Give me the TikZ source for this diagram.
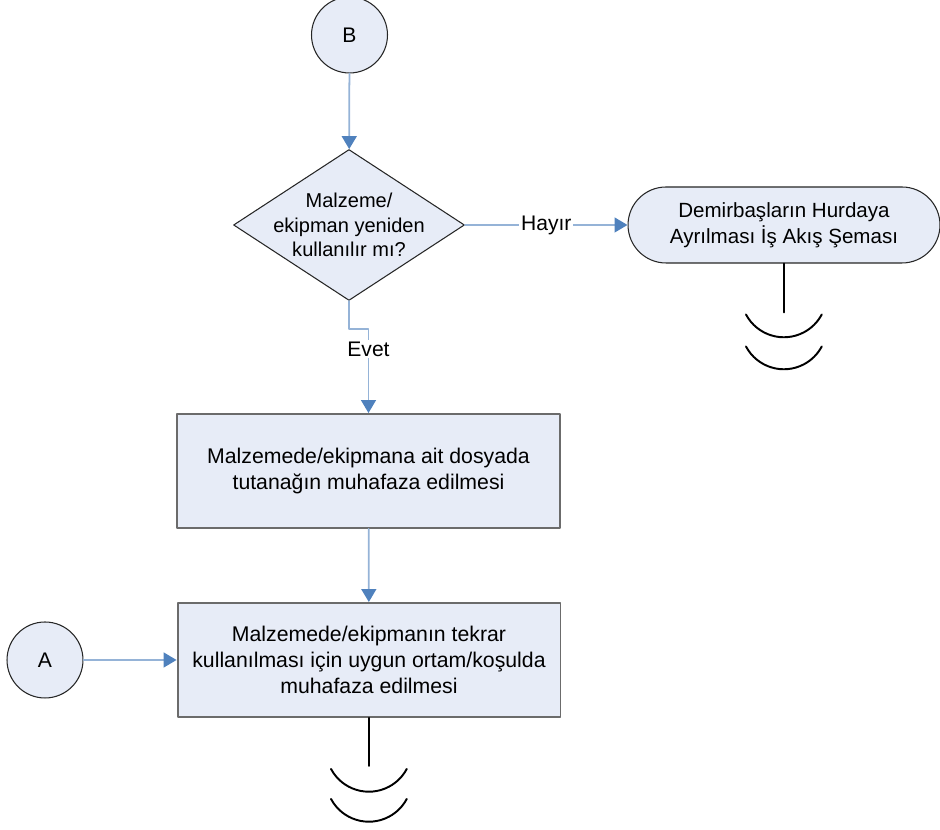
\documentclass[tikz,border=0pt]{standalone}
\usepackage{fontspec}
\setmainfont{Liberation Sans}
\usepackage{tikz}
\usetikzlibrary{shapes.geometric}
\usetikzlibrary{arrows.meta}
\definecolor{dolgu}{rgb}{0.906,0.925,0.969}
\definecolor{cizgi}{rgb}{0.584,0.702,0.843}
\definecolor{okucu}{rgb}{0.310,0.506,0.741}
\definecolor{kenar}{rgb}{0.42,0.42,0.42}
\definecolor{koyu}{rgb}{0.15,0.15,0.15}
\tikzstyle{every node}=[font=\fontsize{11.7}{14.7}\selectfont]
\tikzstyle{baglanti}=[circle,draw=koyu,fill=dolgu,line width=0.6pt,minimum size=1.52cm,inner sep=0pt,font=\fontsize{12}{14.7}\selectfont]
\tikzstyle{islem}=[rectangle,draw=kenar,fill=dolgu,line width=1.1pt,minimum width=7.66cm,minimum height=2.28cm,align=center,font=\fontsize{12.1}{15}\selectfont]
\tikzstyle{karar}=[diamond,draw=koyu,fill=dolgu,line width=0.6pt,minimum width=4.62cm,minimum height=3.02cm,inner sep=0pt]
\tikzstyle{sonlandirma}=[rectangle,rounded corners=0.76cm,draw=koyu,fill=dolgu,line width=0.6pt,minimum width=6.24cm,minimum height=1.52cm,align=center]
\tikzstyle{akis}=[line width=1pt,color=cizgi,-{Triangle[length=7.4pt,width=8.5pt,color=okucu]}]
\tikzstyle{etiket}=[fill=white,text=black,inner sep=1pt,font=\fontsize{12}{14.7}\selectfont]
\tikzstyle{devam}=[line width=1.1pt,color=black]

\begin{document}
\begin{tikzpicture}[line cap=round,line join=round,x=0.02cm,y=0.02cm]
\useasboundingbox (0,0) rectangle (940,830);
\node[baglanti] (B) at (349.5,795) {B};
\node[karar] (soru) at (349,605) {};
\node[align=center,font=\fontsize{11.4}{13.9}\selectfont] (sorumetin) at (soru) {Malzeme/\\ekipman yeniden\\kullanılır mı?};
\node[sonlandirma] (hurda) at (784,605) {Demirbaşların Hurdaya\\Ayrılması İş Akış Şeması};
\node[islem] (tutanak) at (368.5,359) {Malzemede/ekipmana ait dosyada\\tutanağın muhafaza edilmesi};
\node[islem] (muhafaza) at (369,170) {Malzemede/ekipmanın tekrar\\kullanılması için uygun ortam/koşulda\\muhafaza edilmesi};
\node[baglanti] (A) at (45,170) {A};
\draw [akis] (B) -- (soru);
\draw [akis] (soru) -- (hurda) node[etiket,midway]{Hayır};
\draw [akis] (soru.south) -- ++(0,-28) -| (tutanak.north) node[etiket,pos=0.62]{Evet};
\draw [akis] (tutanak) -- (muhafaza);
\draw [akis] (A) -- (muhafaza);
% devam isaretleri
\draw [devam] (hurda.south) -- ++(0,-49) coordinate (hurdason);
\draw [devam] (hurdason) ++(-38,-2) arc[start angle=208,end angle=332,radius=0.858cm];
\draw [devam] (hurdason) ++(-38,-34) arc[start angle=208,end angle=332,radius=0.858cm];
\draw [devam] (muhafaza.south) -- ++(0,-48) coordinate (muhafazason);
\draw [devam] (muhafazason) ++(-38,-3) arc[start angle=208,end angle=332,radius=0.858cm];
\draw [devam] (muhafazason) ++(-38,-33) arc[start angle=208,end angle=332,radius=0.858cm];
\end{tikzpicture}
\end{document}
